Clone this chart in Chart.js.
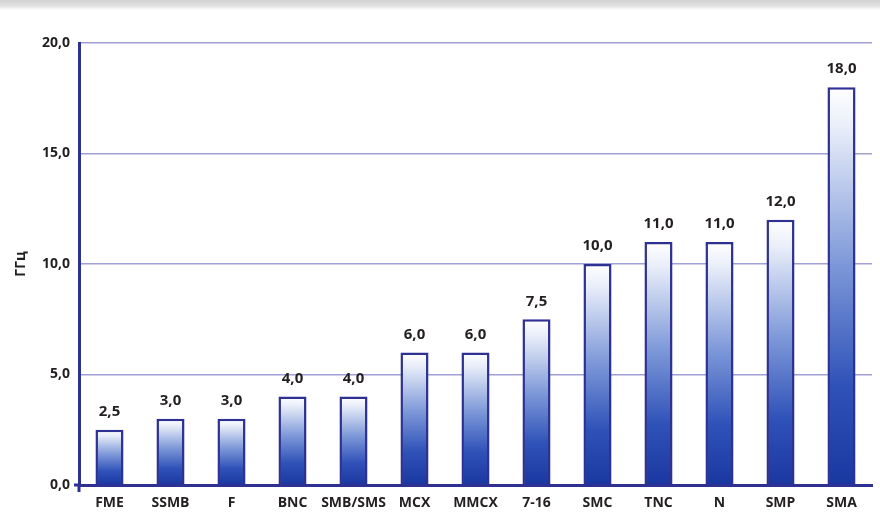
<!DOCTYPE html>
<html>
<head>
<meta charset="utf-8">
<script src="https://cdn.jsdelivr.net/npm/chart.js@4/dist/chart.umd.min.js"></script>
<style>
  html, body { margin: 0; padding: 0; background: #fff; }
  #wrap { position: relative; width: 880px; height: 519px; }
  #band { position: absolute; left: 0; top: 0; width: 880px; height: 10px;
          background: linear-gradient(#d2d2d2, #e2e2e2 60%, #ffffff); }
  canvas { position: absolute; left: 0; top: 0; }
</style>
</head>
<body>
<div id="wrap">
  <div id="band"></div>
  <canvas id="myChart" width="880" height="519"></canvas>
</div>
<script>
'use strict';

//connector names
let connectors = ['FME', 'SSMB', 'F', 'BNC', 'SMB/SMS', 'MCX', 'MMCX', '7-16', 'SMC', 'TNC', 'N', 'SMP', 'SMA'];
//max frequency, GHz
let maxFreq = [2.5, 3.0, 3.0, 4.0, 4.0, 6.0, 6.0, 7.5, 10.0, 11.0, 11.0, 12.0, 18.0];
//y axis ticks
let yTicks = [0, 5, 10, 15, 20];

let fontName = '"Open Sans", "DejaVu Sans", sans-serif';
let textColor = '#231f20';
let navy = '#2e3192';

//comma decimal like in the picture
function fmt(v) {
    return v.toFixed(1).replace('.', ',');
}

//vertical gradient for one bar
function barFill(context) {
    let chart = context.chart;
    let yScale = chart.scales.y;
    if (!chart.chartArea || !yScale) {
        return '#4f73c7';
    }
    let value = context.raw;
    let top = yScale.getPixelForValue(value);
    let bottom = yScale.getPixelForValue(0);
    let g = chart.ctx.createLinearGradient(0, top, 0, bottom);
    g.addColorStop(0, '#ffffff');
    g.addColorStop(0.1, '#e9eef9');
    g.addColorStop(0.45, '#7c97d8');
    g.addColorStop(0.75, '#2f52b8');
    g.addColorStop(1, '#1a37a0');
    return g;
}

//labels over the bars
let valueLabels = {
    id: 'valueLabels',
    afterDatasetsDraw(chart) {
        let ctx = chart.ctx;
        let meta = chart.getDatasetMeta(0);
        ctx.save();
        ctx.font = 'bold 15px ' + fontName;
        ctx.fillStyle = textColor;
        ctx.textAlign = 'center';
        ctx.textBaseline = 'middle';
        meta.data.forEach(function (bar, i) {
            ctx.fillText(fmt(maxFreq[i]), bar.x, bar.y - 18);
        });
        ctx.restore();
    }
};

//small tick marks where the axes cross
let axisCross = {
    id: 'axisCross',
    afterDraw(chart) {
        let ctx = chart.ctx;
        let x = chart.scales.x.left;
        let y = chart.scales.y.getPixelForValue(0);
        ctx.save();
        ctx.strokeStyle = navy;
        ctx.lineWidth = 3;
        ctx.beginPath();
        ctx.moveTo(x, y);
        ctx.lineTo(x, y + 7);
        ctx.moveTo(x, y);
        ctx.lineTo(x - 5, y);
        ctx.stroke();
        ctx.restore();
    }
};

let ctx = document.getElementById('myChart').getContext('2d');
let chart = new Chart(ctx, {
    type: 'bar',
    data: {
        labels: connectors,
        datasets: [{
            data: maxFreq,
            backgroundColor: barFill,
            borderColor: navy,
            borderWidth: 2.5,
            borderSkipped: 'bottom',
            barPercentage: 0.46,
            categoryPercentage: 1
        }]
    },
    options: {
        responsive: false,
        animation: false,
        layout: { padding: { top: 43, right: 8, bottom: 0, left: 0 } },
        plugins: {
            legend: { display: false },
            tooltip: { enabled: false }
        },
        scales: {
            x: {
                grid: { display: false },
                border: { color: navy, width: 3 },
                ticks: {
                    color: textColor,
                    font: { family: fontName, size: 14, weight: 'bold' },
                    padding: 2,
                    maxRotation: 0,
                    autoSkip: false
                },
                afterFit(scale) { scale.height = 34; }
            },
            y: {
                min: 0,
                max: 20,
                afterBuildTicks(scale) {
                    scale.ticks = yTicks.map(function (v) { return { value: v }; });
                },
                grid: {
                    color: function (c) { return c.tick && c.tick.value === 0 ? 'rgba(0,0,0,0)' : '#a0a0d4'; },
                    lineWidth: 1.5,
                    drawTicks: false
                },
                border: { color: navy, width: 3 },
                ticks: {
                    color: textColor,
                    font: { family: fontName, size: 14, weight: 'bold' },
                    padding: 9,
                    callback: function (v) { return fmt(v); }
                },
                title: {
                    display: true,
                    text: 'ГГц',
                    color: textColor,
                    font: { family: fontName, size: 14, weight: 'bold' },
                    padding: { top: 13, bottom: 0 }
                },
                afterFit(scale) { scale.width = 79; }
            }
        }
    },
    plugins: [valueLabels, axisCross]
});
</script>
</body>
</html>
